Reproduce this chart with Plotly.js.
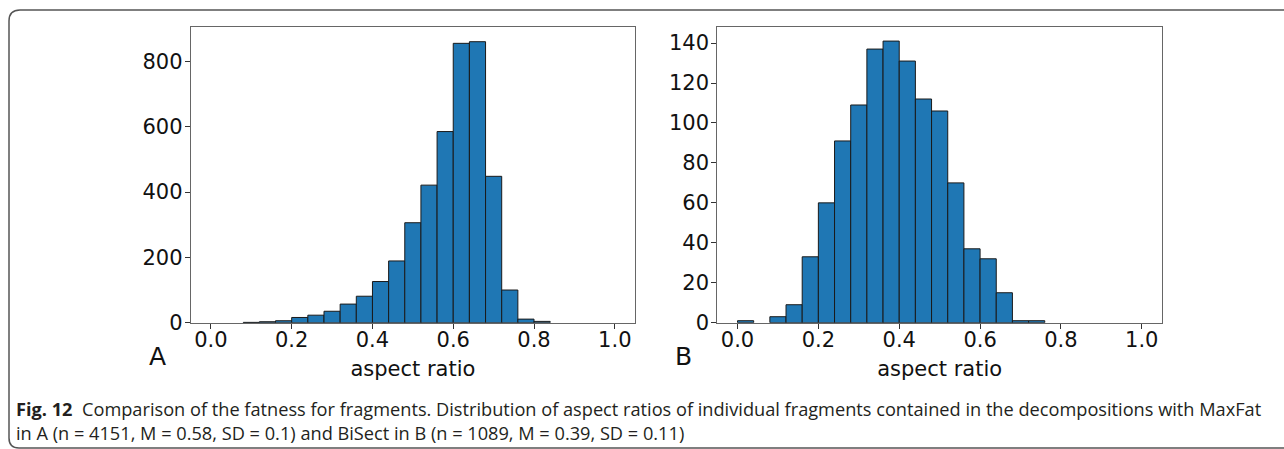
<!DOCTYPE html>
<html>
<head>
<meta charset="utf-8">
<script src="https://cdn.plot.ly/plotly-3.0.1.min.js"></script>
<style>html,body{margin:0;padding:0;background:#fff;}#chart{width:1284px;height:449px;}</style>
</head>
<body>
<div id="chart"></div>
<script>
// Histogram bin left edges (bin width 0.04)
const binStarts = [0.00,0.04,0.08,0.12,0.16,0.20,0.24,0.28,0.32,0.36,0.40,0.44,0.48,0.52,0.56,0.60,0.64,0.68,0.72,0.76,0.80,0.84,0.88,0.92,0.96];
const binWidth = 0.04;
// Panel A: MaxFat counts
const countsA = [0,0,1,3,6,16,23,35,57,81,126,189,306,421,585,855,860,448,100,11,4,0,0,0,0];
// Panel B: BiSect counts
const countsB = [1,0,3,9,33,60,91,109,137,141,131,112,106,70,37,32,15,1,1,0,0,0,0,0,0];
const xTickVals = [0,0.2,0.4,0.6,0.8,1.0];
const xTickText = ["0.0","0.2","0.4","0.6","0.8","1.0"];
const yTicksA = [0,200,400,600,800];
const yTicksB = [0,20,40,60,80,100,120,140];
const axisTitle = "aspect ratio";
const panelLabels = ["A","B"];
const captionLine1 = "<b>Fig. 12</b>  Comparison of the fatness for fragments. Distribution of aspect ratios of individual fragments contained in the decompositions with MaxFat";
const captionLine2 = "in A (n = 4151, M = 0.58, SD = 0.1) and BiSect in B (n = 1089, M = 0.39, SD = 0.11)";

const W = 1284, H = 449;
const px = x => x / W;
const py = y => 1 - y / H;

const centers = binStarts.map(s => s + binWidth / 2);
const nz = arr => arr.map(v => (v === 0 ? null : v));
const barStyle = {color: '#1f77b4', line: {color: '#1a1a1a', width: 1}};

const traces = [
  {type: 'bar', x: centers, y: nz(countsA), width: binWidth, marker: barStyle, xaxis: 'x', yaxis: 'y', hoverinfo: 'skip'},
  {type: 'bar', x: centers, y: nz(countsB), width: binWidth, marker: barStyle, xaxis: 'x2', yaxis: 'y2', hoverinfo: 'skip'}
];

const tickFont = {family: 'DejaVu Sans', size: 21, color: '#111'};
function xAx(domain, anchor) {
  return {domain: domain, anchor: anchor, range: [-0.05, 1.05], tickvals: xTickVals, ticktext: xTickText,
    ticks: 'outside', ticklen: 5, tickwidth: 1, tickcolor: '#333', showline: true, mirror: true,
    linecolor: '#666', linewidth: 1, showgrid: false, zeroline: false, tickfont: tickFont,
    ticklabelstandoff: -7,
    title: {text: axisTitle, font: {family: 'DejaVu Sans', size: 21, color: '#111'}, standoff: 10}};
}
function yAx(domain, anchor, range, ticks) {
  return {domain: domain, anchor: anchor, range: range, tickvals: ticks,
    ticks: 'outside', ticklen: 5, tickwidth: 1, tickcolor: '#333', showline: true, mirror: true,
    linecolor: '#666', linewidth: 1, showgrid: false, zeroline: false, tickfont: tickFont,
    ticklabelstandoff: -2};
}

const yDom = [py(322.7), py(27)];
const layout = {
  width: W, height: H,
  margin: {l: 0, r: 0, t: 0, b: 0},
  paper_bgcolor: '#fff', plot_bgcolor: '#fff',
  showlegend: false, bargap: 0,
  xaxis: xAx([px(190.7), px(635)], 'y'),
  yaxis: yAx(yDom, 'x', [0, 905], yTicksA),
  xaxis2: xAx([px(717.3), px(1162)], 'y2'),
  yaxis2: yAx(yDom, 'x2', [0, 148.05], yTicksB),
  shapes: [{
    type: 'path', xref: 'paper', yref: 'paper',
    path: `M ${px(1290)},${py(10)} L ${px(20)},${py(10)} Q ${px(9)},${py(10)} ${px(9)},${py(21)} L ${px(9)},${py(438)} Q ${px(9)},${py(448)} ${px(19)},${py(448)} L ${px(1290)},${py(448)}`,
    line: {color: '#555', width: 1.5}
  }],
  annotations: [
    {text: panelLabels[0], xref: 'paper', yref: 'paper', x: px(157), y: py(356), xanchor: 'center', yanchor: 'middle', showarrow: false, font: {family: 'DejaVu Sans', size: 25, color: '#111'}},
    {text: panelLabels[1], xref: 'paper', yref: 'paper', x: px(683), y: py(356), xanchor: 'center', yanchor: 'middle', showarrow: false, font: {family: 'DejaVu Sans', size: 25, color: '#111'}},
    {text: captionLine1 + '<br>' + captionLine2, xref: 'paper', yref: 'paper', x: px(14), y: py(421), xanchor: 'left', yanchor: 'middle', align: 'left', showarrow: false, font: {family: 'Open Sans', size: 18.2, color: '#231f20'}}
  ]
};

Plotly.newPlot('chart', traces, layout, {staticPlot: true, displayModeBar: false});
</script>
</body>
</html>
